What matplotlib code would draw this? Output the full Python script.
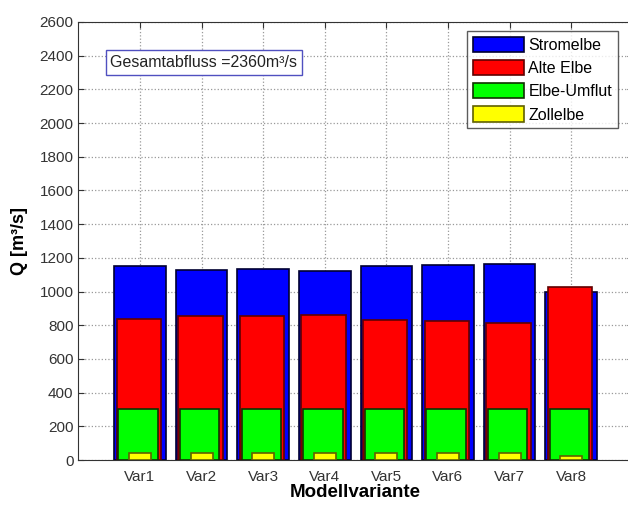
import numpy as np
import matplotlib.pyplot as plt

plt.rcParams['font.family'] = ['Liberation Sans', 'DejaVu Sans']

# Modellvarianten und Abflusshoehen (jeweils von 0 aus gezeichnet)
labels = ['Var1', 'Var2', 'Var3', 'Var4', 'Var5', 'Var6', 'Var7', 'Var8']
stromelbe = [1153, 1128, 1133, 1124, 1151, 1155, 1163, 1000]
alte_elbe = [837, 855, 855, 860, 831, 827, 815, 1025]
elbe_umflut = [300, 300, 300, 300, 300, 300, 300, 300]
zollelbe = [40, 40, 40, 40, 40, 40, 40, 25]

x = np.arange(1, len(labels) + 1)

fig = plt.figure(figsize=(6.28, 5.09), dpi=100)
# rechter Rand ist im Original abgeschnitten
ax = fig.add_axes([78.4 / 628, 49 / 509, 554.4 / 628, 438 / 509])

b1 = ax.bar(x, stromelbe, width=0.84, color='#0000ff', edgecolor='#000030', linewidth=1.2, zorder=3)
b2 = ax.bar(x - 0.02, alte_elbe, width=0.72, color='#ff0000', edgecolor='#600000', linewidth=1.2, zorder=4)
b3 = ax.bar(x - 0.03, elbe_umflut, width=0.64, color='#00ff00', edgecolor='#103000', linewidth=1.2, zorder=5)
b4 = ax.bar(x, zollelbe, width=0.36, color='#ffff00', edgecolor='#606000', linewidth=1.2, zorder=6)

ax.set_xlim(0, 9)
ax.set_ylim(0, 2600)
ax.set_yticks(np.arange(0, 2601, 200))
ax.set_xticks(x)
ax.set_xticklabels(labels)
ax.tick_params(direction='in', top=True, right=True, labelsize=11, colors='#333333', length=4)
ax.tick_params(axis='x', pad=7)
ax.grid(True, linestyle=':', color='#999999', linewidth=0.9, zorder=0)
ax.set_axisbelow(True)

ax.set_ylabel('Q [m\u00b3/s]', fontsize=13, fontweight='bold', labelpad=8)
ax.set_xlabel('Modellvariante', fontsize=13.5, fontweight='bold', labelpad=0)

ax.text(0.52, 2360, 'Gesamtabfluss =2360m\u00b3/s', fontsize=11.5, va='center', ha='left', color='#222222',
        bbox=dict(boxstyle='square,pad=0.3', facecolor='white', edgecolor='#5050c0', linewidth=1), zorder=10)

leg = ax.legend([b1, b2, b3, b4], ['Stromelbe', 'Alte Elbe', 'Elbe-Umflut', 'Zollelbe'],
                loc='upper left', bbox_to_anchor=(388.6 / 554.4, 1 - 9 / 438), fancybox=False,
                edgecolor='#333333', fontsize=11.5, handlelength=3.2, handleheight=1.1,
                labelspacing=0.45, handletextpad=0.3, borderpad=0.35, borderaxespad=0)
leg.get_frame().set_linewidth(1)
leg.set_zorder(10)

for s in ax.spines.values():
    s.set_color('#333333')

fig.savefig('out.png', dpi=100)
